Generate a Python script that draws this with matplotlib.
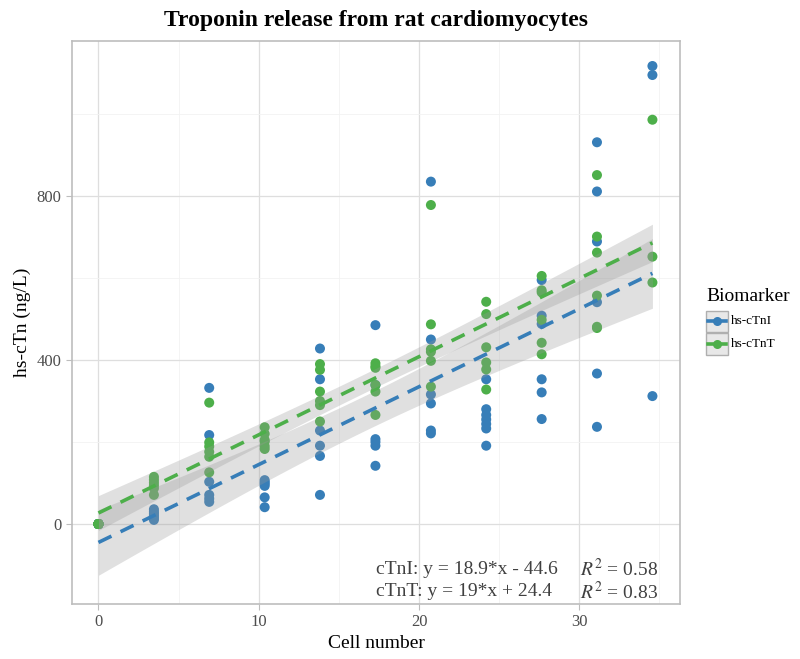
import numpy as np
import matplotlib
matplotlib.use("Agg")
import matplotlib.pyplot as plt
from matplotlib.lines import Line2D
from matplotlib.patches import Rectangle

# ── Data (stacked replicates estimated) ───────────────────────────────────────
cell_numbers = [0, 3.46, 6.91, 10.37, 13.82, 17.28, 20.74, 24.19, 27.65, 31.1, 34.56]

ctni = [
    [0, 0, 0, 0, 0, 0],
    [36, 30, 25, 20, 15, 10],
    [332, 217, 103, 71, 62, 54],
    [107, 102, 98, 93, 65, 41],
    [428, 353, 228, 191, 166, 71],
    [485, 339, 207, 200, 191, 142],
    [835, 450, 316, 294, 228, 221],
    [353, 280, 266, 255, 244, 233, 191],
    [595, 508, 488, 353, 321, 256],
    [931, 811, 689, 541, 367, 237],
    [1117, 1095, 312],
]

ctnt = [
    [0, 0, 0, 0, 0, 0],
    [115, 108, 101, 94, 87, 71],
    [296, 199, 189, 176, 164, 126],
    [236, 220, 205, 201, 190, 183],
    [390, 376, 323, 300, 290, 250],
    [392, 385, 381, 339, 323, 266],
    [778, 487, 426, 420, 398, 335],
    [542, 512, 431, 394, 377, 328],
    [605, 570, 565, 498, 442, 414],
    [851, 701, 662, 557, 481, 478],
    [986, 652, 589],
]

labels = ["hs-cTnI", "hs-cTnT"]
eq_text = ["cTnI: y = 18.9*x - 44.6", "cTnT: y = 19*x + 24.4"]
r2_text = ["0.58", "0.83"]

# ── Style ─────────────────────────────────────────────────────────────────────
BLUE = "#377EB8"
GREEN = "#4DAF4A"
plt.rcParams["font.family"] = ["Liberation Serif", "DejaVu Serif"]
plt.rcParams["mathtext.fontset"] = "stix"


def long_form(groups):
    xs, ys = [], []
    for x, vals in zip(cell_numbers, groups):
        xs += [x] * len(vals)
        ys += vals
    return np.array(xs, float), np.array(ys, float)


def lm_band(x, y, grid, t=2.0):
    slope, icpt = np.polyfit(x, y, 1)
    resid = y - (slope * x + icpt)
    n = len(x)
    s = np.sqrt(np.sum(resid ** 2) / (n - 2))
    sxx = np.sum((x - x.mean()) ** 2)
    se = s * np.sqrt(1 / n + (grid - x.mean()) ** 2 / sxx)
    fit = slope * grid + icpt
    return fit, fit - t * se, fit + t * se


fig = plt.figure(figsize=(8, 6.59), dpi=100)
ax = fig.add_axes([0.09, 0.0835, 0.76, 0.8543])

series = [(long_form(ctni), BLUE), (long_form(ctnt), GREEN)]
grid = np.linspace(min(cell_numbers), max(cell_numbers), 80)

for (x, y), col in series:
    ax.scatter(x, y, s=52, color=col, edgecolors="none", zorder=2)

for (x, y), col in series:
    fit, lo, hi = lm_band(x, y, grid)
    ax.fill_between(grid, lo, hi, color="#999999", alpha=0.3, linewidth=0, zorder=3)
    ax.plot(grid, fit, color=col, lw=2.6, dashes=(4, 2.8), zorder=4)

ax.set_xlim(-1.65, 36.28)
ax.set_ylim(-195, 1178)
ax.set_xticks([0, 10, 20, 30])
ax.set_xticks([5, 15, 25, 35], minor=True)
ax.set_yticks([0, 400, 800])
ax.set_yticks([200, 600, 1000], minor=True)
ax.grid(which="major", color="#DEDEDE", lw=0.9, zorder=0)
ax.grid(which="minor", color="#F2F2F2", lw=0.6, zorder=0)
ax.set_axisbelow(True)
for sp in ax.spines.values():
    sp.set_color("#BDBDBD")
    sp.set_linewidth(1.2)
ax.tick_params(which="major", length=4, color="#BDBDBD", labelsize=12, labelcolor="#4D4D4D")
ax.tick_params(which="minor", length=0)

ax.set_xlabel("Cell number", fontsize=14, labelpad=3)
ax.set_ylabel("hs-cTn (ng/L)", fontsize=14, labelpad=4)
ax.set_title("Troponin release from rat cardiomyocytes", fontsize=17, fontweight="bold", pad=11)

for i, (eq, r2) in enumerate(zip(eq_text, r2_text)):
    yy = 0.0613 - i * 0.0393
    ax.text(0.5, yy, eq, transform=ax.transAxes, fontsize=14, color="#404040", va="center")
    ax.text(0.8355, yy, r"$R^2$ = " + r2, transform=ax.transAxes, fontsize=14, color="#404040", va="center")

# ── Legend (ggplot-style boxed keys) ──────────────────────────────────────────
W, H = 800, 659
fig.text(706 / W, 1 - 297 / H, "Biomarker", fontsize=14, va="center", ha="left")
for i, (lab, col) in enumerate(zip(labels, [BLUE, GREEN])):
    top = 310.5 + i * 22.5
    fig.patches.append(Rectangle((706 / W, 1 - (top + 21.5) / H), 21.5 / W, 21.5 / H,
                                 transform=fig.transFigure, facecolor="#E8E8E8",
                                 edgecolor="#AFAFAF", lw=1.0))
    cy = 1 - (top + 10.75) / H
    fig.lines.append(Line2D([708 / W, 725.5 / W], [cy, cy], transform=fig.transFigure,
                            color=col, lw=2.6))
    fig.lines.append(Line2D([716.75 / W], [cy], transform=fig.transFigure,
                            color=col, marker="o", markersize=6.5, markeredgewidth=0))
    fig.text(731 / W, cy, lab, fontsize=9.5, va="center", ha="left")

fig.savefig("out.png", dpi=100)
